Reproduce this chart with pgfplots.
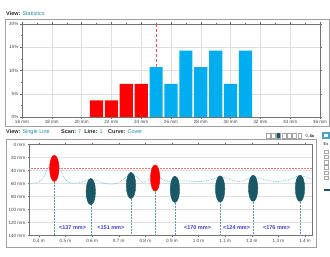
\documentclass[border=0pt]{standalone}
\usepackage{pgfplots}
\pgfplotsset{compat=1.18}
\usepackage{fontspec}
\setmainfont{Liberation Sans}
\definecolor{barblue}{RGB}{0,174,239}
\definecolor{barred}{RGB}{255,0,0}
\definecolor{tealdark}{RGB}{26,88,104}
\definecolor{curveblue}{RGB}{100,190,222}
\definecolor{vline}{RGB}{95,155,165}
\definecolor{hdrteal}{RGB}{30,140,175}
\definecolor{hdrdark}{RGB}{40,40,40}
\definecolor{spacing}{RGB}{60,60,225}
\definecolor{framegray}{RGB}{160,160,160}
\newcommand{\tfont}{\fontsize{4.6}{5}\selectfont}
\newcommand{\hfont}{\fontsize{5.5}{6}\selectfont}
\begin{document}
\begin{tikzpicture}[x=1pt,y=1pt]
\useasboundingbox (0,0) rectangle (330,257);
\fill[white] (0,0) rectangle (330,257);
% headers
\node[anchor=west,inner sep=0] at (6,243) {\hfont\textbf{\color{hdrdark}View:} \color{hdrteal}Statistics};
\node[anchor=west,inner sep=0] at (6,125) {\hfont\textbf{\color{hdrdark}View:} \color{hdrteal}Single Line};
\node[anchor=west,inner sep=0] at (61,125) {\hfont\textbf{\color{hdrdark}Scan:} \color{hdrteal}7\ \ \textbf{\color{hdrdark}Line:} \color{hdrteal}1};
\node[anchor=west,inner sep=0] at (108,125) {\hfont\textbf{\color{hdrdark}Curve:} \color{hdrteal}Cover};
% frames
\draw[framegray, line width=0.9pt] (5,238) rectangle (329,131);
\draw[framegray, line width=0.9pt] (6,118) rectangle (316,10);
% right side controls
\foreach \i in {0,...,6}{
  \draw[gray!70, line width=0.4pt] (266+\i*5.3,118.5) rectangle (269.8+\i*5.3,123.5);
}
\fill[tealdark] (266+2*5.3,118.5) rectangle (269.8+2*5.3,123.5);
\draw[gray!70, line width=0.5pt] (306.5,121.8) circle (1.3);
\draw[gray!70, line width=0.6pt] (307.4,120.9) -- (308.6,119.5);
\node[anchor=west,inner sep=0] at (309.5,121) {\fontsize{4}{4}\selectfont\textbf{4x}};
\fill[hdrteal!80] (321.5,117.5) rectangle (330,124.5);
\fill[white] (324,119.5) rectangle (328,122.5);
\node[anchor=west,inner sep=0] at (323.5,113) {\fontsize{4}{4}\selectfont Ex};
\foreach \j in {0,...,5}{
  \draw[gray!70, line width=0.4pt] (324,103.5-\j*5.2) rectangle (328,107-\j*5.2);
}
\fill[tealdark] (324,65.5) rectangle (330,68);
% ===== top histogram =====
\begin{axis}[
  at={(22pt,140pt)}, anchor=south west, scale only axis,
  width=298pt, height=93pt,
  xmin=16, xmax=36, ymin=0, ymax=20,
  xtick={16,18,20,22,24,26,28,30,32,34,36},
  ytick={0,5,10,15,20},
  minor x tick num=1, minor y tick num=1,
  /pgf/number format/assume math mode=true,
  xticklabel={\pgfmathprintnumber{\tick}~mm},
  yticklabel={\pgfmathprintnumber{\tick}\%},
  tick label style={font=\tfont, text=black!75},
  xticklabel style={yshift=1.5pt},
  yticklabel style={xshift=1.5pt},
  tick align=outside, major tick length=1.6pt, minor tick length=1pt,
  tick style={black!60, line width=0.3pt},
  xmajorgrids, ymajorgrids,
  major grid style={black!12, line width=0.3pt},
  axis line style={black!55, line width=0.4pt},
  clip=false,
]
\addplot[barred!70, densely dashed, line width=0.3pt] coordinates {(25,0) (25,20)};
\addplot[ybar, bar width=0.88, bar shift=0pt, fill=barred, draw=none]
  coordinates {(21,3.57) (22,3.57) (23,7.14) (24,7.14)};
\addplot[ybar, bar width=0.88, bar shift=0pt, fill=barblue, draw=none]
  coordinates {(25,10.71) (26,7.14) (27,14.29) (28,10.71) (29,14.29) (30,7.14) (31,14.29)};
\end{axis}
% ===== bottom single line =====
\begin{axis}[
  at={(29.3pt,21.5pt)}, anchor=south west, scale only axis,
  width=282.4pt, height=91pt,
  xmin=0.364, xmax=1.425, ymin=0, ymax=140, y dir=reverse,
  xtick={0.4,0.5,0.6,0.7,0.8,0.9,1.0,1.1,1.2,1.3,1.4},
  ytick={0,20,40,60,80,100,120,140},
  /pgf/number format/assume math mode=true,
  xticklabel={\pgfmathprintnumber[fixed,fixed zerofill,precision=1]{\tick}~m},
  yticklabel={\pgfmathprintnumber{\tick}~mm},
  tick label style={font=\tfont, text=black!75},
  xticklabel style={yshift=1pt},
  yticklabel style={xshift=1pt},
  tick align=outside, major tick length=1.6pt,
  tick style={black!60, line width=0.3pt},
  ymajorgrids,
  major grid style={black!12, line width=0.3pt},
  axis line style={black!55, line width=0.4pt},
  clip=false,
]
% threshold
\addplot[barred!55, densely dotted, line width=0.5pt] coordinates {(0.364,36) (1.425,36)};
% cover curve
\addplot[curveblue, densely dotted, line width=0.7pt, smooth] coordinates {
 (0.364,60) (0.39,59) (0.41,55) (0.43,40) (0.445,26) (0.458,21) (0.47,26) (0.485,42)
 (0.50,54) (0.52,59) (0.55,59) (0.58,55) (0.60,53) (0.62,56) (0.65,60) (0.68,61)
 (0.71,56) (0.735,48) (0.75,46) (0.765,49) (0.79,58) (0.81,55) (0.825,43) (0.835,40)
 (0.845,43) (0.865,54) (0.89,57) (0.911,56) (0.95,56) (1.0,57) (1.04,55) (1.08,50)
 (1.12,54) (1.15,57) (1.18,54) (1.205,49) (1.24,53) (1.29,57) (1.34,54) (1.38,48)
 (1.41,51) (1.425,53)};
% drop lines
\addplot[vline, densely dotted, line width=0.5pt] coordinates {(0.458,36.7) (0.458,140)};
\addplot[vline, densely dotted, line width=0.5pt] coordinates {(0.595,72.5) (0.595,140)};
\addplot[vline, densely dotted, line width=0.5pt] coordinates {(0.746,63) (0.746,140)};
\addplot[vline, densely dotted, line width=0.5pt] coordinates {(0.837,51.7) (0.837,140)};
\addplot[vline, densely dotted, line width=0.5pt] coordinates {(0.911,69) (0.911,140)};
\addplot[vline, densely dotted, line width=0.5pt] coordinates {(1.081,68.4) (1.081,140)};
\addplot[vline, densely dotted, line width=0.5pt] coordinates {(1.205,67.4) (1.205,140)};
\addplot[vline, densely dotted, line width=0.5pt] coordinates {(1.381,67.4) (1.381,140)};
% rebars
\addplot[only marks, mark=*, mark size=4.7pt, mark options={fill=tealdark, draw=tealdark, yscale=2.8}]
  coordinates {(0.595,72.5) (0.746,63) (0.911,69) (1.081,68.4) (1.205,67.4) (1.381,67.4)};
\addplot[only marks, mark=*, mark size=4.7pt, mark options={fill=barred, draw=barred, yscale=2.8}]
  coordinates {(0.458,36.7) (0.837,51.7)};
% spacing labels
\foreach \xx/\tt in {0.5265/137, 0.6705/151, 0.996/170, 1.143/124, 1.293/176}{
  \edef\temp{\noexpand\node[font=\noexpand\fontsize{5.5}{6}\noexpand\selectfont\noexpand\bfseries, text=spacing, inner sep=0] at (axis cs:\xx,128) {<\tt~mm>};}
  \temp
}
\end{axis}
\end{tikzpicture}
\end{document}
